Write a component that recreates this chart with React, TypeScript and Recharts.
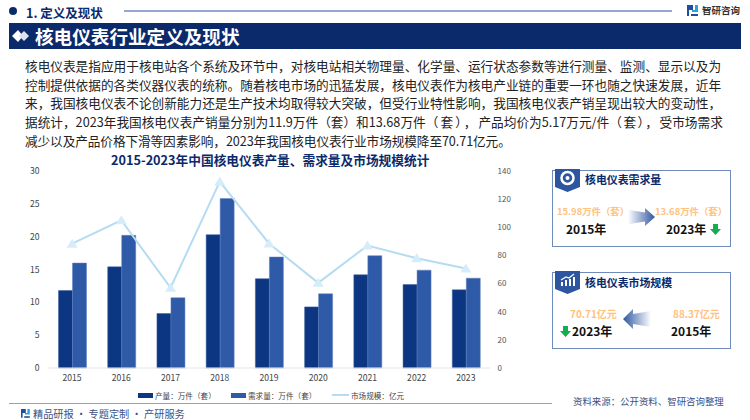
import React from "react";
import { ComposedChart, Bar, Line, XAxis, YAxis, Legend } from "recharts";

const years = ["2015", "2016", "2017", "2018", "2019", "2020", "2021", "2022", "2023"];
const production = [11.8, 15.4, 8.3, 20.3, 13.6, 9.3, 14.2, 12.7, 11.9];
const demand = [15.98, 20.2, 10.7, 25.8, 16.9, 11.3, 17.1, 14.9, 13.68];
const marketSize = [88.37, 105, 57, 132.5, 88.5, 60.5, 87, 78, 70.71];
const leftTicks = [0, 5, 10, 15, 20, 25, 30];
const rightTicks = [0, 20, 40, 60, 80, 100, 120, 140];
const paragraphTop = [
  "核电仪表是指应用于核电站各个系统及环节中，对核电站相关物理量、化学量、运行状态参数等进行测量、监测、显示以及为",
  "控制提供依据的各类仪器仪表的统称。随着核电市场的迅猛发展，核电仪表作为核电产业链的重要一环也随之快速发展，近年",
  "来，我国核电仪表不论创新能力还是生产技术均取得较大突破，但受行业特性影响，我国核电仪表产销呈现出较大的变动性，",
];
const line4 = ["据统计，2023年我国核电仪表产销量分别为11.9万件（套）和13.68万件", "（套），", "产品均价为5.17万元/件", "（套），", "受市场需求"];
const line5 = "减少以及产品价格下滑等因素影响，2023年我国核电仪表行业市场规模降至70.71亿元。";
const rows = years.map((year, i) => ({ year, production: production[i], demand: demand[i], marketSize: marketSize[i] }));

const FONT = '"Noto Sans CJK SC", "Noto Sans", sans-serif';
const NAVY = "#0B2A6B";
const ORANGE = "#FFC27F";

function T({ x, y, size, color = "#222", bold = false, children, spacing = 0 }: any) {
  return (
    <div style={{ position: "absolute", left: x, top: y, transform: "translateY(-50%)", fontSize: size, lineHeight: 1.2, color, fontWeight: bold ? 700 : 400, whiteSpace: "nowrap", letterSpacing: spacing }}>
      {children}
    </div>
  );
}

function Triangle(props: any) {
  const { cx, cy } = props;
  if (cx == null || cy == null) return null;
  return <polygon points={`${cx},${cy - 5} ${cx + 5.5},${cy + 4} ${cx - 5.5},${cy + 4}`} fill="#D5ECF9" />;
}

function ChartLegend() {
  const item = (left: number, swatch: React.ReactNode, label: string) => (
    <div key={label} style={{ position: "absolute", left, top: 0, display: "flex", alignItems: "center", height: 12, fontSize: 7.6, color: "#444", whiteSpace: "nowrap", fontFamily: FONT }}>
      {swatch}
      <span style={{ marginLeft: 2 }}>{label}</span>
    </div>
  );
  const box = (c: string) => <div style={{ width: 15, height: 5, background: c }} />;
  return (
    <div style={{ position: "relative", width: 530, height: 12 }}>
      {item(138, box("#0D3682"), "产量：万件（套）")}
      {item(231, box("#2E5AA7"), "需求量：万件（套）")}
      {item(332, <div style={{ width: 17, height: 2, background: "#B5DCF2" }} />, "市场规模：亿元")}
    </div>
  );
}

function Ribbon({ y, children }: any) {
  return (
    <svg style={{ position: "absolute", left: 555, top: y }} width={26} height={25}>
      <polygon points="0,0 25,0 25,18 12.5,23 0,18" fill="#2E56A0" />
      {children}
    </svg>
  );
}

function GradArrow({ x, y, w, h, left, id }: any) {
  const pts = left
    ? `0,${h / 2} 10,0 10,${h * 0.25} ${w},${h * 0.1} ${w},${h * 0.9} 10,${h * 0.75} 10,${h}`
    : `${w},${h / 2} ${w - 10},0 ${w - 10},${h * 0.25} 0,${h * 0.1} 0,${h * 0.9} ${w - 10},${h * 0.75} ${w - 10},${h}`;
  return (
    <svg style={{ position: "absolute", left: x, top: y }} width={w} height={h}>
      <defs>
        <linearGradient id={id} x1={left ? "1" : "0"} x2={left ? "0" : "1"} y1="0" y2="0">
          <stop offset="0" stopColor="#2E56A0" stopOpacity="0" />
          <stop offset="1" stopColor="#2E56A0" />
        </linearGradient>
      </defs>
      <polygon points={pts} fill={`url(#${id})`} />
    </svg>
  );
}

function GreenDown({ x, y }: any) {
  return (
    <svg style={{ position: "absolute", left: x, top: y }} width={11} height={11}>
      <polygon points="3,0 8,0 8,5 11,5 5.5,11 0,5 3,5" fill="#12AE4F" />
    </svg>
  );
}

function Logo({ x, y, s = 1 }: any) {
  return (
    <svg style={{ position: "absolute", left: x, top: y }} width={11 * s} height={11 * s} viewBox="0 0 11 11">
      <path d="M0 0H6V5H2V11H0Z" fill="#1F4E9E" />
      <path d="M8 0H11V7H5V5H8Z" fill="#2AA3DC" />
      <path d="M4 9H11V11H4Z" fill="#1F4E9E" />
    </svg>
  );
}

export default function App() {
  return (
    <div style={{ position: "absolute", left: 0, top: 0, width: 750, height: 420, background: "#fff", overflow: "hidden", fontFamily: FONT }}>
      <div style={{ position: "absolute", left: 9, top: 7, width: 8, height: 8, borderRadius: 4, background: NAVY }} />
      <T x={26} y={11.5} size={12.5} color={NAVY} bold>1. 定义及现状</T>
      <div style={{ position: "absolute", left: 124, top: 10, width: 548, height: 1.5, background: "#93A7D2" }} />
      <Logo x={687} y={5} />
      <T x={702} y={10.5} size={9.5} color="#333" bold>智研咨询</T>

      <div style={{ position: "absolute", left: 9, top: 23, width: 732, height: 26, background: NAVY }} />
      <svg style={{ position: "absolute", left: 12, top: 30 }} width={18} height={12}>
        <polygon points="0,6 6,0 11,6 6,12" fill="#fff" />
        <polygon points="7,6 12,1 17,6 12,11" fill="#DDE3F0" />
      </svg>
      <T x={35} y={36} size={18.6} color="#fff" bold>核电仪表行业定义及现状</T>

      {paragraphTop.map((line, i) => (
        <T key={i} x={25} y={66 + i * 18.7} size={12.67} color="#222">{line}</T>
      ))}
      <T x={25} y={66 + 3 * 18.7} size={12.67} color="#222">
        {line4[0]}
        <span style={{ letterSpacing: 2.1 }}>{line4[1]}</span>
        {line4[2]}
        <span style={{ letterSpacing: 1.5 }}>{line4[3]}</span>
        {line4[4]}
      </T>
      <T x={25} y={66 + 4 * 18.7} size={12.67} color="#222" spacing={-0.1}>{line5}</T>

      <T x={111} y={160} size={12.7} color={NAVY} bold>2015-2023年中国核电仪表产量、需求量及市场规模统计</T>

      <div style={{ position: "absolute", left: 0, top: 160 }}>
        <ComposedChart width={530} height={252} data={rows} barGap={0} margin={{ top: 11, right: 0, bottom: 0, left: 0 }}>
          <XAxis dataKey="year" height={32} tick={{ fontSize: 8.6, fill: "#444" }} tickLine={false} tickSize={0} axisLine={{ stroke: "#E6E6E6", strokeWidth: 1.2 }} tickMargin={7} />
          <YAxis yAxisId="left" width={47.5} domain={[0, 30]} ticks={leftTicks} tick={{ fontSize: 8.6, fill: "#444" }} tickLine={false} tickSize={0} axisLine={false} tickMargin={8} interval={0} />
          <YAxis yAxisId="right" orientation="right" width={39.5} domain={[0, 140]} ticks={rightTicks} tick={{ fontSize: 8, fill: "#555" }} tickLine={false} tickSize={0} axisLine={false} tickMargin={7} interval={0} />
          <Bar yAxisId="left" dataKey="production" name="产量：万件（套）" barSize={14} fill="#0D3682" stroke="#3C5F9F" strokeWidth={0.5} isAnimationActive={false} />
          <Bar yAxisId="left" dataKey="demand" name="需求量：万件（套）" barSize={14} fill="#2E5AA7" stroke="#5F82C2" strokeWidth={0.5} isAnimationActive={false} />
          <Line yAxisId="right" dataKey="marketSize" name="市场规模：亿元" type="linear" stroke="#B5DCF2" strokeWidth={2} dot={<Triangle />} activeDot={false} isAnimationActive={false} />
          <Legend content={<ChartLegend />} verticalAlign="bottom" height={0} wrapperStyle={{ left: 0, top: 229, width: 530 }} />
        </ComposedChart>
      </div>

      <div style={{ position: "absolute", left: 9, top: 403, width: 543, height: 1, background: "#8EA2CC" }} />
      <Logo x={21} y={409} s={0.8} />
      <T x={33} y={414} size={10.2} color="#3D4F85">精品研报 · 专题定制 · 产研服务</T>
      <T x={573} y={402} size={9.44} color="#3D4F85">资料来源：公开资料、智研咨询整理</T>

      <div style={{ position: "absolute", left: 552, top: 170, width: 177, height: 75, border: "1px solid #6F8BBD" }} />
      <Ribbon y={169}>
        <circle cx={12.5} cy={9} r={6} fill="none" stroke="#fff" strokeWidth={2.5} />
        <circle cx={12.5} cy={9} r={2} fill="#fff" />
      </Ribbon>
      <T x={585} y={180} size={10.9} color={NAVY} bold>核电仪表需求量</T>
      <T x={557} y={212} size={9.4} color={ORANGE} bold>15.98万件（套）</T>
      <T x={566} y={229} size={12} color="#111" bold>2015年</T>
      <GradArrow x={628} y={208} w={27} h={18} id="a1" />
      <T x={655} y={212} size={9.4} color={ORANGE} bold>13.68万件（套）</T>
      <T x={666} y={229} size={12} color="#111" bold>2023年</T>
      <GreenDown x={710} y={224} />

      <div style={{ position: "absolute", left: 552, top: 272, width: 177, height: 75, border: "1px solid #6F8BBD" }} />
      <Ribbon y={271}>
        <path d="M6 15V11H8V15ZM10 15V9H12V15ZM14 15V8H16V15ZM18 15V6H20V15Z" fill="#fff" />
        <path d="M6 9L11 6L14 7L19 3" fill="none" stroke="#fff" strokeWidth={1.2} />
      </Ribbon>
      <T x={585} y={283} size={10.9} color={NAVY} bold>核电仪表市场规模</T>
      <T x={570} y={314} size={10} color={ORANGE} bold>70.71亿元</T>
      <GreenDown x={560} y={326} />
      <T x={572} y={331} size={12} color="#111" bold>2023年</T>
      <GradArrow x={623} y={309} w={28} h={20} left id="a2" />
      <T x={673} y={314} size={10} color={ORANGE} bold>88.37亿元</T>
      <T x={671} y={331} size={12} color="#111" bold>2015年</T>
    </div>
  );
}
